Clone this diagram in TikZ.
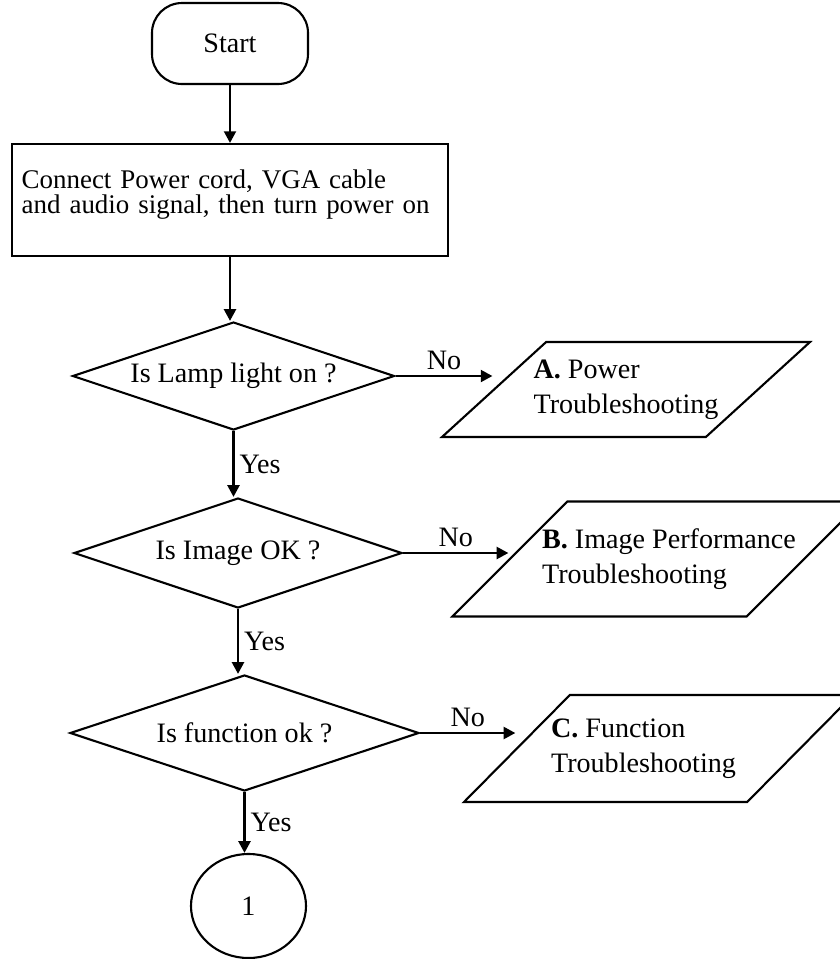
\documentclass[tikz,border=0pt]{standalone}
\usepackage{fontspec}
\setmainfont{Liberation Serif}
\usetikzlibrary{arrows.meta, shapes.geometric}

\begin{document}
\begin{tikzpicture}[
  x=0.15mm, y=-0.15mm,
  every node/.style={font=\fontsize{12}{15}\selectfont},
  terminal/.style={draw, line width=0.9pt, rounded corners=4.5mm,
                   minimum width=23.4mm, minimum height=12.15mm},
  process/.style={draw, line width=0.9pt, align=left, text width=62.5mm,
                  inner xsep=1.5mm, inner ysep=0pt, text height=6.6mm,
                  text depth=10.2mm, font=\fontsize{11.5}{11}\selectfont},
  decision/.style={draw, line width=0.9pt, diamond, aspect=3, inner sep=0pt},
  io/.style={draw, line width=0.9pt, trapezium, trapezium left angle=45,
             trapezium right angle=135, trapezium stretches body, align=left},
  connector/.style={draw, line width=0.9pt, ellipse,
                    minimum width=17.25mm, minimum height=15.6mm},
  arrow/.style={line width=1.2pt, -{Triangle[length=5pt, width=5pt]}},
  answer/.style={inner sep=2pt},
]
\useasboundingbox (0,0) rectangle (840,959);

\node[terminal] (start) at (230, 43.5) {Start};
\node[process, anchor=north] (setup) at (230, 143)
  {Connect Power cord, VGA cable\\and audio signal, then turn power on};

\node[decision, minimum width=48.3mm, minimum height=16.2mm] (lamp) at (233.5, 376) {Is Lamp light on ?};
\node[decision, minimum width=49.2mm, minimum height=16.5mm] (image) at (238, 553) {Is Image OK ?};
\node[decision, minimum width=52.35mm, minimum height=17.4mm] (func) at (244.5, 733) {Is function ok ?};
\node[connector] (next) at (248.5, 906) {1};

% the text runs past the slanted sides, hence the negative xsep;
% the \hspace* pads push the text off centre inside B and C
\node[io, trapezium left angle=42, trapezium right angle=138,
      inner xsep=-1.95mm, inner ysep=2.55mm,
      minimum width=55.2mm, minimum height=14.25mm] (power) at (626, 389.5)
  {\textbf{A.} Power\\Troubleshooting};
\node[io, inner xsep=-7.4mm, inner ysep=4.05mm,
      minimum width=61.2mm, minimum height=17.25mm] (perf) at (657, 559)
  {\hspace*{3.6mm}\textbf{B.} Image Performance\\\hspace*{3.6mm}Troubleshooting};
\node[io, inner xsep=-2.85mm, inner ysep=3.45mm,
      minimum width=58.35mm, minimum height=16.05mm] (fix) at (658.5, 748.5)
  {\textbf{C.} Function\\Troubleshooting\hspace*{4.5mm}};

\draw[arrow] (start) -- (setup);
\draw[arrow] (setup.south) -- (setup.south |- lamp.north);
\draw[arrow] (lamp.south) -- (lamp.south |- image.north) node[answer, midway, right] {Yes};
\draw[arrow] (image.south) -- (image.south |- func.north) node[answer, midway, right] {Yes};
\draw[arrow] (func.south) -- (func.south |- next.north) node[answer, midway, right] {Yes};

\draw[arrow] (lamp.east) -- (lamp.east -| power.west) node[answer, midway, above] {No};
\draw[arrow] (image.east) -- (image.east -| perf.west) node[answer, midway, above] {No};
\draw[arrow] (func.east) -- (func.east -| fix.west) node[answer, midway, above] {No};

\end{tikzpicture}
\end{document}
